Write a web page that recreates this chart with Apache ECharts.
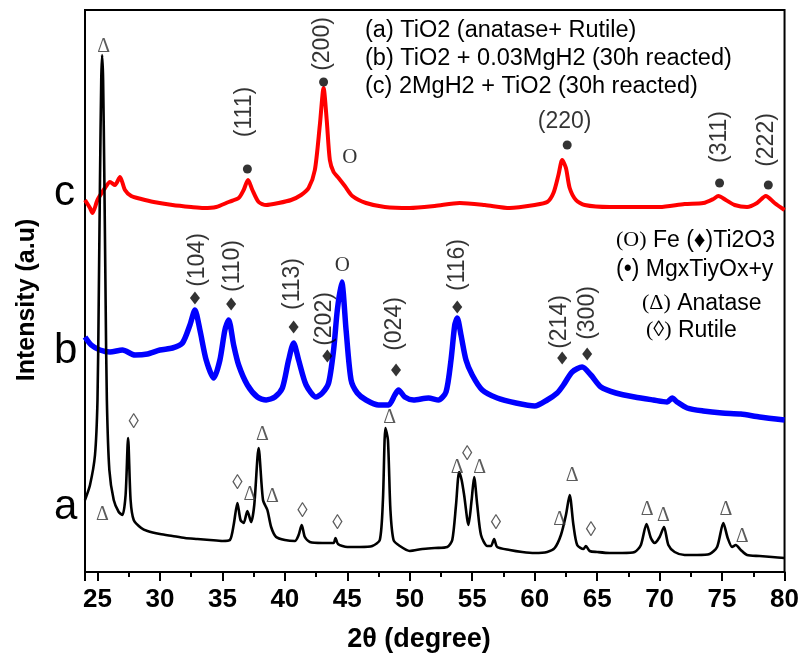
<!DOCTYPE html>
<html>
<head>
<meta charset="utf-8">
<script src="https://cdn.jsdelivr.net/npm/echarts@6/dist/echarts.min.js"></script>
<style>html,body{margin:0;padding:0;background:#fff}#c{width:802px;height:655px}</style>
</head>
<body>
<div id="c"></div>
<script>
// ---- data: [2theta, intensity (arbitrary units, offset traces)] ----
const traceA = [[24.0,72],[24.4,87],[24.8,117],[25.0,172],[25.1,272],[25.2,392],[25.3,492],[25.37,517],[25.45,492],[25.55,392],[25.65,272],[25.75,172],[25.95,102],[26.3,72],[26.7,60],[27.0,57],[27.25,77],[27.45,134],[27.65,72],[27.9,52],[28.5,44],[29.0,41],[30.0,38],[31.0,36],[32.0,34],[33.0,33],[34.0,32],[35.0,31],[35.6,32],[35.9,47],[36.2,69],[36.45,52],[36.7,49],[37.0,61],[37.3,50],[37.55,67],[37.9,124],[38.25,72],[38.6,62],[38.9,45],[39.3,35],[40.0,32],[40.8,31],[41.1,37],[41.35,47],[41.6,35],[42.0,30],[43.0,29],[43.9,29],[44.05,34],[44.25,28],[45.0,25],[46.0,25],[47.0,26],[47.6,32],[47.85,72],[48.05,144],[48.25,132],[48.45,62],[48.7,32],[49.2,26],[50.0,21],[51.0,23],[52.0,24],[53.0,25],[53.4,32],[53.7,67],[53.95,100],[54.15,92],[54.35,77],[54.7,47],[54.95,72],[55.15,95],[55.4,67],[55.7,37],[56.2,26],[56.5,26],[56.75,33],[57.0,25],[58.0,22],[59.0,20],[60.0,19],[61.0,20],[61.6,24],[62.1,37],[62.5,57],[62.8,77],[63.1,47],[63.4,27],[63.9,23],[64.1,26],[64.4,21],[65.0,20],[66.0,19],[67.0,19],[68.0,20],[68.5,27],[68.95,48],[69.3,34],[69.6,29],[70.0,35],[70.35,45],[70.7,27],[71.2,20],[72.0,17],[73.0,17],[74.0,18],[74.6,25],[75.1,49],[75.45,34],[75.8,25],[76.1,27],[76.5,22],[77.0,17],[78.0,16],[79.0,15],[80.0,14]];
const traceB = [[24.0,235],[24.5,227],[25.2,222],[26.0,220],[27.0,222],[28.0,217],[29.0,218],[30.0,222],[31.0,224],[31.8,229],[32.4,247],[32.8,262],[33.2,242],[33.7,212],[34.3,194],[34.8,212],[35.2,242],[35.5,252],[35.9,227],[36.3,207],[37.0,187],[37.8,175],[38.5,172],[39.2,175],[39.8,184],[40.3,212],[40.7,229],[41.1,212],[41.7,187],[42.5,175],[43.0,179],[43.5,189],[43.9,222],[44.2,262],[44.55,290],[44.9,242],[45.3,192],[45.8,179],[46.5,172],[47.5,167],[48.3,167],[48.8,177],[49.1,182],[49.6,175],[50.3,172],[51.5,174],[52.3,172],[52.9,180],[53.3,212],[53.6,247],[53.8,254],[54.1,237],[54.5,212],[55.0,197],[55.8,182],[57.0,174],[58.5,169],[60.0,166],[61.0,172],[61.8,179],[62.3,187],[63.0,200],[63.8,205],[64.5,197],[65.3,185],[66.5,179],[68.0,175],[69.5,172],[70.6,170],[71.0,174],[71.4,170],[72.2,164],[73.5,161],[75.0,159],[76.5,158],[78.0,155],[80.0,152]];
const traceC = [[24.0,372],[24.4,364],[24.6,359],[25.0,372],[25.6,384],[26.0,390],[26.4,387],[26.8,395],[27.2,382],[27.7,376],[28.5,373],[29.5,370],[31.0,367],[32.5,365],[33.5,364],[34.5,365],[35.5,370],[36.3,374],[36.7,382],[37.05,392],[37.4,382],[37.9,370],[38.5,367],[39.5,369],[40.5,372],[41.3,377],[41.9,384],[42.4,402],[42.8,447],[43.1,484],[43.35,452],[43.6,412],[43.9,400],[44.3,394],[44.8,386],[45.4,376],[46.5,369],[48.0,365],[50.0,364],[52.0,366],[54.0,369],[56.0,367],[58.0,364],[60.0,367],[61.0,370],[61.5,379],[61.9,397],[62.2,412],[62.5,404],[62.8,384],[63.3,372],[64.0,367],[66.0,365],[68.0,365],[70.0,365],[72.0,368],[73.5,369],[74.3,373],[74.7,376],[75.3,372],[76.0,367],[77.0,365],[77.8,369],[78.5,376],[79.2,369],[80.0,362]];

// peak markers
const cDots = [[37.0,403],[43.1,490],[62.6,427],[74.8,389],[78.7,387]];
const cIndexV = [[36.8,460,'(111)'],[43.0,528,'(200)'],[74.8,435,'(311)'],[78.6,432,'(222)']];
const cIndexH = [[62.4,450,'(220)']];
const cFe = [[45.2,415,'O']];
const bDiamonds = [[32.8,274],[35.7,268],[40.7,245],[43.4,216],[48.9,202],[53.8,265],[62.2,214],[64.2,218]];
const bIndexV = [[33.0,312,'(104)'],[35.8,306,'(110)'],[40.6,288,'(113)'],[43.2,253,'(202)'],[48.8,248,'(024)'],[53.8,307,'(116)'],[62.0,250,'(214)'],[64.2,259,'(300)']];
const bFe = [[44.6,307,'O']];
const aAnatase = [[25.5,525],[25.4,57],[37.2,77],[38.2,137],[39.0,75],[48.4,154],[53.8,104],[55.6,104],[62.0,52],[63.0,96],[69.0,62],[70.3,56],[75.3,62],[76.6,35]];
const aRutile = [[27.9,150],[36.2,89],[41.4,61],[44.2,49],[54.6,118],[56.9,49],[64.5,42]];

const xLabels = [25,30,35,40,45,50,55,60,65,70,75,80];
const xMajorTicks = [24,25,30,35,40,45,50,55,60,65,70,75,80];
const xMinor = [27.5,32.5,37.5,42.5,47.5,52.5,57.5,62.5,67.5,72.5,77.5];
const legendTop = ['(a) TiO2 (anatase+ Rutile)','(b) TiO2 + 0.03MgH2 (30h reacted)','(c) 2MgH2 + TiO2 (30h reacted)'];
const traceNames = ['a','b','c'];
const xTitle = '2θ (degree)';
const yTitle = 'Intensity (a.u)';

const SANS = "'Liberation Sans', Arial, sans-serif";
const SERIF = "'Liberation Serif', 'Times New Roman', serif";

function textSeries(data, opts) {
  return {
    type: 'scatter', data: data, symbolSize: 1, itemStyle: {color: 'rgba(0,0,0,0)'},
    z: 5, silent: true,
    label: Object.assign({show: true, position: 'inside', formatter: p => p.data[2] !== undefined ? p.data[2] : opts.text,
      color: '#000', fontFamily: SANS, fontSize: 23}, opts.label || {})
  };
}

const chart = echarts.init(document.getElementById('c'), null, {renderer: 'canvas'});
chart.setOption({
  animation: false,
  backgroundColor: '#fff',
  grid: {left: 85, right: 17, top: 10, bottom: 83, show: true, borderColor: '#000', borderWidth: 2, backgroundColor: 'transparent'},
  xAxis: [{
    type: 'value', min: 24, max: 80,
    axisLine: {show: true, lineStyle: {color: '#000', width: 2}},
    axisTick: {show: true, length: 9, lineStyle: {color: '#000', width: 2}, customValues: xMajorTicks},
    axisLabel: {customValues: xLabels, fontFamily: SANS, fontWeight: 'bold', fontSize: 26, color: '#000', margin: 15},
    splitLine: {show: false}
  }, {
    type: 'value', min: 24, max: 80, position: 'bottom',
    axisLine: {show: false},
    axisTick: {show: true, length: 5, lineStyle: {color: '#000', width: 2}, customValues: xMinor},
    axisLabel: {show: false},
    splitLine: {show: false}
  }],
  yAxis: {
    type: 'value', min: 0, max: 562,
    axisLine: {show: true, lineStyle: {color: '#000', width: 2}},
    axisTick: {show: false}, axisLabel: {show: false}, splitLine: {show: false}
  },
  series: [
    {name: traceNames[0], type: 'line', data: traceA, showSymbol: false, smooth: 0.25, lineStyle: {color: '#000', width: 2.6}, z: 3},
    {name: traceNames[1], type: 'line', data: traceB, showSymbol: false, smooth: 0.25, lineStyle: {color: '#0000ff', width: 5.5}, z: 2},
    {name: traceNames[2], type: 'line', data: traceC, showSymbol: false, smooth: 0.25, lineStyle: {color: '#ff0000', width: 4}, z: 2},
    {type: 'scatter', data: cDots, symbol: 'circle', symbolSize: 9, itemStyle: {color: '#000'}, z: 5, silent: true},
    {type: 'scatter', data: bDiamonds, symbol: 'diamond', symbolSize: [10, 13], itemStyle: {color: '#000'}, z: 5, silent: true},
    textSeries(cIndexV, {label: {rotate: 90}}),
    textSeries(cIndexH, {}),
    textSeries(bIndexV, {label: {rotate: 90}}),
    textSeries(cFe.concat(bFe), {label: {fontFamily: SERIF, fontSize: 21}}),
    textSeries(aAnatase, {text: 'Δ', label: {fontFamily: SERIF, fontSize: 20, color: '#333'}}),
    textSeries(aRutile, {text: '◊', label: {fontFamily: SERIF, fontSize: 21, color: '#333'}})
  ],
  graphic: [
    {type: 'text', left: 365, top: 19, style: {text: legendTop[0], font: '23.5px ' + SANS, fill: '#000'}},
    {type: 'text', left: 365, top: 47, style: {text: legendTop[1], font: '23.5px ' + SANS, fill: '#000'}},
    {type: 'text', left: 365, top: 75, style: {text: legendTop[2], font: '23.5px ' + SANS, fill: '#000'}},
    {type: 'text', left: 616, top: 229, style: {rich: {s: {fontFamily: SERIF, fontSize: 22}, t: {fontFamily: SANS, fontSize: 23}},
      text: '{s|(O)}{t| Fe (♦)Ti2O3}', fill: '#000'}},
    {type: 'text', left: 616, top: 258, style: {rich: {t: {fontFamily: SANS, fontSize: 23}}, text: '{t|(•) MgxTiyOx+y}', fill: '#000'}},
    {type: 'text', left: 642, top: 292, style: {rich: {s: {fontFamily: SERIF, fontSize: 22}, t: {fontFamily: SANS, fontSize: 23}},
      text: '{s|(Δ)}{t| Anatase}', fill: '#000'}},
    {type: 'text', left: 646, top: 319, style: {rich: {s: {fontFamily: SERIF, fontSize: 22}, t: {fontFamily: SANS, fontSize: 23}},
      text: '{s|(◊)}{t| Rutile}', fill: '#000'}},
    {type: 'text', left: 54, top: 172, style: {text: 'c', font: '42px ' + SANS, fill: '#000'}},
    {type: 'text', left: 54, top: 330, style: {text: 'b', font: '42px ' + SANS, fill: '#000'}},
    {type: 'text', left: 54, top: 486, style: {text: 'a', font: '42px ' + SANS, fill: '#000'}},
    {type: 'text', x: 419, y: 640, style: {text: xTitle, font: 'bold 27px ' + SANS, fill: '#000', align: 'center', verticalAlign: 'middle'}},
    {type: 'text', x: 27, y: 300, rotation: Math.PI / 2, style: {text: yTitle, font: 'bold 25px ' + SANS, fill: '#000', align: 'center', verticalAlign: 'middle'}}
  ]
});
</script>
</body>
</html>
